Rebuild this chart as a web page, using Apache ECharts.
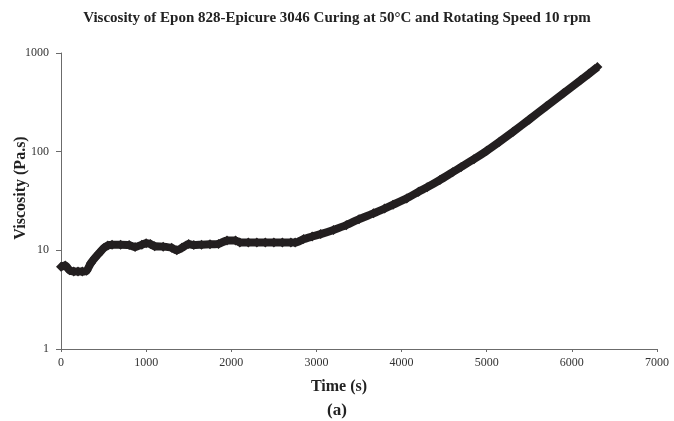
<!DOCTYPE html>
<html>
<head>
<meta charset="utf-8">
<script src="https://cdn.jsdelivr.net/npm/echarts@6/dist/echarts.min.js"></script>
<style>html,body{margin:0;padding:0;background:#fff}#c{width:674px;height:421px}</style>
</head>
<body>
<div id="c"></div>
<script>
var timeS = [0, 50, 100, 150, 200, 250, 300, 350, 400, 450, 500, 550, 600, 700, 800, 870, 950, 1000, 1050, 1100, 1200, 1300, 1360, 1420, 1500, 1560, 1650, 1750, 1850, 1950, 2050, 2100, 2200, 2300, 2400, 2500, 2600, 2700, 2750, 2850, 2950, 3050, 3200, 3350, 3500, 3670, 3800, 3900, 4060, 4200, 4300, 4450, 4600, 4700, 4850, 5000, 5150, 5310, 5500, 5700, 5900, 6100, 6200, 6300];
var viscosity = [6.8, 7.0, 6.3, 6.1, 6.1, 6.1, 6.2, 7.4, 8.4, 9.4, 10.5, 11.2, 11.4, 11.4, 11.3, 10.8, 11.4, 11.8, 11.6, 11.0, 10.9, 10.6, 10.0, 10.6, 11.6, 11.3, 11.4, 11.5, 11.6, 12.6, 12.6, 12.0, 12.0, 12.0, 12.0, 12.0, 12.0, 12.0, 12.0, 13.0, 13.8, 14.6, 16.1, 18.0, 20.7, 23.7, 26.5, 29.0, 33.6, 39.3, 43.5, 51.6, 62, 70, 84, 102, 126, 159, 212, 288, 390, 528, 615, 720];
var yTicks = [1, 10, 100, 1000];
var xTicks = [0, 1000, 2000, 3000, 4000, 5000, 6000, 7000];

var points = timeS.map(function (t, i) { return [t, viscosity[i]]; });
var serif = '"Liberation Serif", "DejaVu Serif", serif';
var axisGray = '#6b6b6b';
var chart = echarts.init(document.getElementById('c'));
chart.setOption({
  animation: false,
  backgroundColor: '#fff',
  title: {
    text: 'Viscosity of Epon 828-Epicure 3046 Curing at 50\u00B0C and Rotating Speed 10 rpm',
    left: 'center',
    top: 6,
    textStyle: { fontFamily: serif, fontSize: 15, fontWeight: 'bold', color: '#222' }
  },
  grid: { left: 61, right: 17, top: 53, bottom: 72, containLabel: false, outerBoundsMode: 'none' },
  xAxis: {
    type: 'value', min: xTicks[0], max: xTicks[xTicks.length - 1], interval: 1000,
    name: 'Time (s)', nameLocation: 'middle', nameGap: 30, nameMoveOverlap: false,
    nameTextStyle: { fontFamily: serif, fontSize: 16, fontWeight: 'bold', color: '#222', padding: [0, 40, 0, 0] },
    axisLine: { lineStyle: { color: axisGray, width: 1 } },
    axisTick: { show: true, length: 3, lineStyle: { color: axisGray } },
    axisLabel: { fontFamily: serif, fontSize: 12, color: '#333', margin: 8, formatter: function (v) { return String(v); } },
    splitLine: { show: false }
  },
  yAxis: {
    type: 'log', logBase: 10, min: yTicks[0], max: yTicks[yTicks.length - 1],
    name: 'Viscosity (Pa.s)', nameLocation: 'middle', nameGap: 32, nameMoveOverlap: false,
    nameTextStyle: { fontFamily: serif, fontSize: 16, fontWeight: 'bold', color: '#222', padding: [0, 0, 0, 26] },
    axisLine: { show: true, lineStyle: { color: axisGray, width: 1 } },
    axisTick: { show: true, length: 5, lineStyle: { color: axisGray } },
    minorTick: { show: false },
    axisLabel: { fontFamily: serif, fontSize: 12, color: '#333', margin: 12, formatter: function (v) { return String(Math.round(v)); } },
    splitLine: { show: false }
  },
  graphic: [{
    type: 'text', left: 327, top: 402,
    style: { text: '(a)', font: 'bold 17px ' + serif, fill: '#222' }
  }],
  series: [{
    type: 'line',
    data: points,
    smooth: 0.2,
    symbol: 'diamond',
    symbolSize: 10,
    showAllSymbol: true,
    lineStyle: { color: '#231f20', width: 8 },
    itemStyle: { color: '#231f20' }
  }]
});
</script>
</body>
</html>
